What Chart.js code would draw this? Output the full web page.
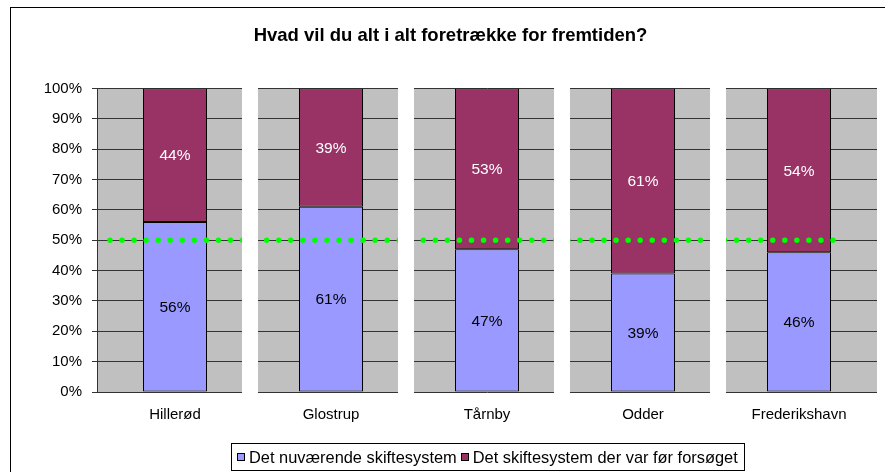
<!DOCTYPE html>
<html>
<head>
<meta charset="utf-8">
<script src="https://cdn.jsdelivr.net/npm/chart.js@4.4.1/dist/chart.umd.min.js"></script>
<style>
  body { margin: 0; background: #fff; }
  canvas { display: block; }
</style>
</head>
<body>
<canvas id="myChart" width="885" height="472"></canvas>
<script>
// data
const cities = ["Hillerød", "Glostrup", "Tårnby", "Odder", "Frederikshavn"];
const currentSystem = [56, 61, 47, 39, 46];
const previousSystem = [44, 39, 53, 61, 54];
const seriesNames = ["Det nuværende skiftesystem", "Det skiftesystem der var før forsøget"];
const yTicks = [0, 10, 20, 30, 40, 50, 60, 70, 80, 90, 100];
const halfLine = 50;

const FONT = "Arial, 'Liberation Sans', sans-serif";

// gray plot area + outer frame
const backdrop = {
    id: 'backdrop',
    beforeDraw(chart) {
        const { ctx, chartArea: a } = chart;
        ctx.save();
        ctx.fillStyle = '#fff';
        ctx.fillRect(0, 0, chart.width, chart.height);
        ctx.strokeStyle = '#000';
        ctx.lineWidth = 1;
        ctx.strokeRect(10.5, 7.5, chart.width + 20, chart.height + 20);
        ctx.fillStyle = '#C0C0C0';
        ctx.fillRect(a.left, a.top, a.right - a.left, a.bottom - a.top);
        ctx.restore();
    }
};

// white gaps between categories, then value labels
const gapsAndLabels = {
    id: 'gapsAndLabels',
    afterDatasetsDraw(chart) {
        const { ctx, chartArea: a } = chart;
        const xs = chart.scales.x;
        ctx.save();
        ctx.fillStyle = '#fff';
        for (let i = 0; i < cities.length - 1; i++) {
            const bx = Math.round((xs.getPixelForValue(i) + xs.getPixelForValue(i + 1)) / 2 - 3);
            ctx.fillRect(bx - 8, a.top - 1, 16, a.bottom - a.top + 2);
        }
        ctx.font = '15.5px ' + FONT;
        ctx.textAlign = 'center';
        ctx.textBaseline = 'middle';
        chart.data.datasets.forEach((ds, di) => {
            if (ds.type === 'line') return;
            chart.getDatasetMeta(di).data.forEach((el, i) => {
                ctx.fillStyle = ds.labelColor;
                ctx.fillText(ds.data[i] + '%', el.x, (el.y + el.base) / 2 + 1);
            });
        });
        ctx.restore();
    }
};

// boxed legend like the original
const boxLegend = {
    id: 'boxLegend',
    afterDraw(chart) {
        const { ctx } = chart;
        const items = chart.data.datasets.filter(d => d.type !== 'line');
        ctx.save();
        ctx.font = '16.4px ' + FONT;
        const widths = items.map(d => ctx.measureText(d.label).width);
        const total = widths.reduce((s, w) => s + 12 + w, 0) + 4 * (items.length - 1);
        const boxW = Math.round(total + 12);
        const left = Math.round(487.5 - boxW / 2) + 0.5;
        const top = 443.5, h = 27;
        ctx.strokeStyle = '#000';
        ctx.lineWidth = 1;
        ctx.strokeRect(left, top, boxW, h);
        let x = left + 5.5;
        const cy = top + h / 2;
        ctx.textBaseline = 'middle';
        ctx.textAlign = 'left';
        items.forEach((d, i) => {
            ctx.fillStyle = d.backgroundColor;
            ctx.fillRect(Math.round(x), Math.round(cy - 4), 8, 8);
            ctx.strokeRect(Math.round(x) + 0.5, Math.round(cy - 4) + 0.5, 7, 7);
            ctx.fillStyle = '#000';
            ctx.fillText(d.label, x + 12, cy + 1);
            x += 12 + widths[i] + 4;
        });
        ctx.restore();
    }
};

const ctx = document.getElementById('myChart').getContext('2d');
new Chart(ctx, {
    type: 'bar',
    data: {
        labels: cities,
        datasets: [
            {
                type: 'line',
                data: [{ x: 0, y: halfLine }, { x: 1, y: halfLine }],
                xAxisID: 'x2',
                borderColor: '#00FF00',
                borderWidth: 5.5,
                borderDash: [0, 12.05],
                borderCapStyle: 'round',
                pointRadius: 0,
                order: 0,
            },
            {
                label: seriesNames[0],
                data: currentSystem,
                backgroundColor: '#9999FF',
                borderColor: '#000',
                borderWidth: 1,
                borderSkipped: false,
                labelColor: '#000',
                stack: 'pct',
                order: 1,
            },
            {
                label: seriesNames[1],
                data: previousSystem,
                backgroundColor: '#993366',
                borderColor: '#000',
                borderWidth: 1,
                borderSkipped: false,
                labelColor: '#fff',
                stack: 'pct',
                order: 1,
            },
        ]
    },
    options: {
        responsive: false,
        animation: false,
        devicePixelRatio: 1,
        layout: { padding: { left: 24, right: 8, top: 0, bottom: 0 } },
        datasets: {
            bar: { barPercentage: 64 / 156, categoryPercentage: 1, grouped: false }
        },
        scales: {
            x: {
                stacked: true,
                grid: { display: false, drawTicks: false },
                border: { display: false },
                ticks: { color: '#000', font: { family: FONT, size: 15 }, padding: 14 },
                afterFit: (s) => { s.height = 80; },
            },
            x2: {
                type: 'linear',
                offset: false,
                min: -0.0177,
                max: 1.0435,
                display: false,
            },
            y: {
                stacked: true,
                min: 0,
                max: 100,
                afterBuildTicks: (s) => { s.ticks = yTicks.map(v => ({ value: v })); },
                grid: { color: '#333', tickLength: 5 },
                border: { color: '#333' },
                ticks: {
                    color: '#000',
                    font: { family: FONT, size: 15 },
                    padding: 10,
                    callback: (v) => v + '%',
                },
                afterFit: (s) => { s.width = 73; },
            }
        },
        plugins: {
            legend: { display: false },
            tooltip: { enabled: false },
            title: {
                display: true,
                text: 'Hvad vil du alt i alt foretrække for fremtiden?',
                color: '#000',
                font: { family: FONT, size: 18.5, weight: 'bold' },
                padding: { top: 25, bottom: 41.2 },
            },
        },
    },
    plugins: [backdrop, gapsAndLabels, boxLegend],
});
</script>
</body>
</html>
